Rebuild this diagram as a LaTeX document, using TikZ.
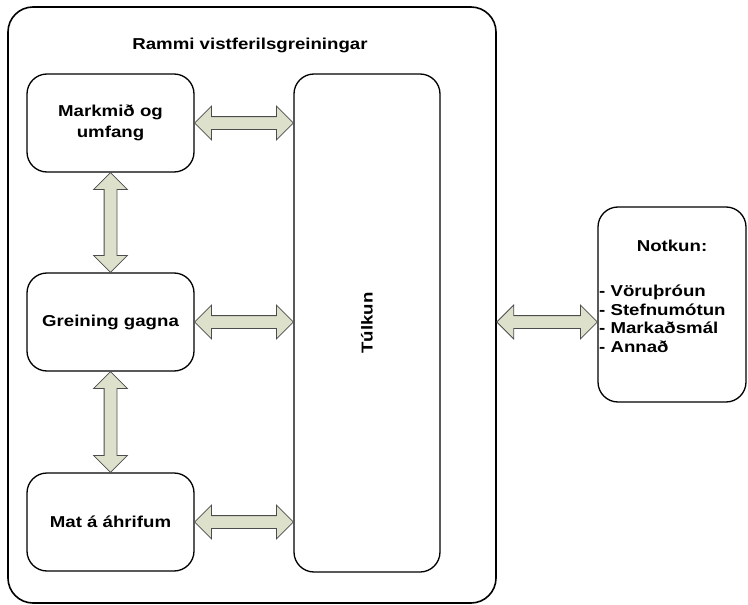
\documentclass[tikz,border=0pt]{standalone}
\usepackage{fontspec}
\setmainfont{Liberation Sans}[FakeStretch=1.18]
\usetikzlibrary{shapes.arrows,calc}
\definecolor{arrowgreen}{RGB}{221,225,204}

\begin{document}
\begin{tikzpicture}
[x=1pt,y=-1pt,every node/.style={font=\bfseries\fontsize{15.8}{21}\selectfont},
box/.style={draw,line width=1.3pt,rounded corners=20pt,minimum width=167,minimum height=98,align=center},
dblarr/.style={double arrow,draw=black!70,fill=arrowgreen,line width=.8pt,double arrow head extend=10.5,inner sep=0pt}]
\useasboundingbox (0,0) rectangle (748,605);
\node[draw,line width=1.6pt,rounded corners=25pt,minimum width=488,minimum height=596] (frame) at (252,305) {};
\node (title) at (250,45) {Rammi vistferilsgreiningar};
\node[box] (mark) at (110.5,123) {Markmið og\\umfang};
\node[box] (grein) at (110.5,322) {Greining gagna};
\node[box] (mat) at (110.5,522) {Mat á áhrifum};
\node[box,minimum width=146,minimum height=498] (tulk) at (367,323) {};
\node[rotate=90] (tulktext) at (tulk.center) {Túlkun};
\node[box,minimum width=148,minimum height=195] (notkun) at (672,304.5) {};
\node (notkunhead) at (672,246) {Notkun:};
\node[anchor=north west,align=left,inner sep=0pt,font=\bfseries\fontsize{15.8}{18.5}\selectfont] (notkunlist) at (599,285) {- Vöruþróun\\- Stefnumótun\\- Markaðsmál\\- Annað};
\foreach \from/\to in {mark.east/tulk.west|-mark.east,grein.east/tulk.west|-grein.east,mat.east/tulk.west|-mat.east,mark.south/grein.north,grein.south/mat.north,frame.east|-grein.east/notkun.west|-grein.east}
\path let \p1=(\from), \p2=(\to), \n1={veclen(\x2-\x1,\y2-\y1)}, \n2={atan2(\y2-\y1,\x2-\x1)} in
node[dblarr,minimum height=\n1,rotate=\n2] at ($(\p1)!.5!(\p2)$) {\rule{0pt}{12pt}};
\end{tikzpicture}
\end{document}
